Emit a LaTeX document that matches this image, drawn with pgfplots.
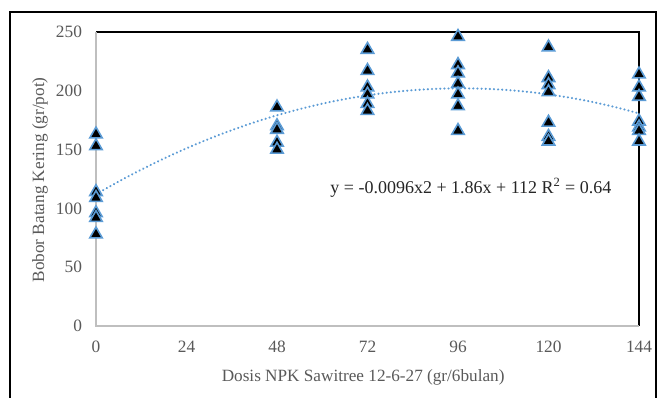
\documentclass[border=0pt]{standalone}
\usepackage{pgfplots}
\pgfplotsset{compat=1.18}
\usepackage{fontspec}
\setmainfont{Liberation Serif}
\definecolor{txt}{HTML}{595959}
\definecolor{mblue}{HTML}{5B9BD5}
\definecolor{axgray}{HTML}{BFBFBF}
\begin{document}
\begin{tikzpicture}
\path[use as bounding box] (-72pt,-54pt) rectangle (423pt,244.5pt);
\draw[black, line width=0.9pt] (-64.5pt,-60pt) -- (-64.5pt,235.5pt) -- (420pt,235.5pt) -- (420pt,-60pt);
\begin{axis}[
  at={(0,0)}, anchor=south west,
  scale only axis, width=407.25pt, height=220.5pt,
  xmin=0, xmax=144, ymin=0, ymax=250,
  xtick={0,24,48,72,96,120,144},
  ytick={0,50,100,150,200,250},
  major tick length=0pt,
  axis line style={draw=none},
  tick label style={font=\fontsize{13}{15}\selectfont, text=txt},
  /pgf/number format/assume math mode=true,
  xticklabel style={yshift=-8pt},
  yticklabel style={xshift=-7pt},
  xlabel={Dosis NPK Sawitree 12-6-27 (gr/6bulan)},
  ylabel={Bobor Batang Kering (gr/pot)},
  label style={font=\fontsize{12.9}{15}\selectfont, text=txt},
  xlabel style={at={(axis description cs:0.492,-0.1735)}, anchor=center},
  ylabel style={at={(axis description cs:-0.103,0.497)}, anchor=center},
  clip=false,
]
\draw[black, line width=0.8pt] (axis cs:0,250) -- (axis cs:144,250) -- (axis cs:144,0);
\draw[axgray, line width=0.8pt] (axis cs:0,250) -- (axis cs:0,0) -- (axis cs:144,0);
\addplot[mblue, line width=1.7pt, dash pattern=on 0.1pt off 3pt, line cap=round, smooth] coordinates {
(0,112) (6,122.81) (12,132.94) (18,142.37) (24,151.11) (30,159.16) (36,166.52) (42,173.19) (48,179.16) (54,184.45) (60,189.04) (66,192.94) (72,196.15) (78,198.67) (84,200.50) (90,201.64) (96,202.09) (102,201.84) (108,200.91) (114,199.28) (120,196.96) (126,193.95) (132,190.25) (138,185.86) (144,180.77)
};
\addplot[only marks, mark=triangle*, mark size=5.4pt, mark options={fill=black, draw=mblue, line width=1.2pt}] coordinates {
(0,163) (0,153) (0,114) (0,109) (0,96) (0,92) (0,78)
(48,186) (48,170) (48,167) (48,156) (48,150)
(72,235) (72,217) (72,203) (72,197) (72,189) (72,183)
(96,246) (96,222) (96,215) (96,206) (96,197) (96,187) (96,166)
(120,237) (120,211) (120,205) (120,199) (120,173) (120,161) (120,157)
(144,214) (144,203) (144,195) (144,174) (144,169) (144,166) (144,157)
};
\node[font=\fontsize{13.5}{15}\selectfont, text=black!85] at (axis cs:99.4,117.3) {y = -0.0096x2 + 1.86x + 112 R\textsuperscript{2} = 0.64};
\end{axis}
\end{tikzpicture}
\end{document}
